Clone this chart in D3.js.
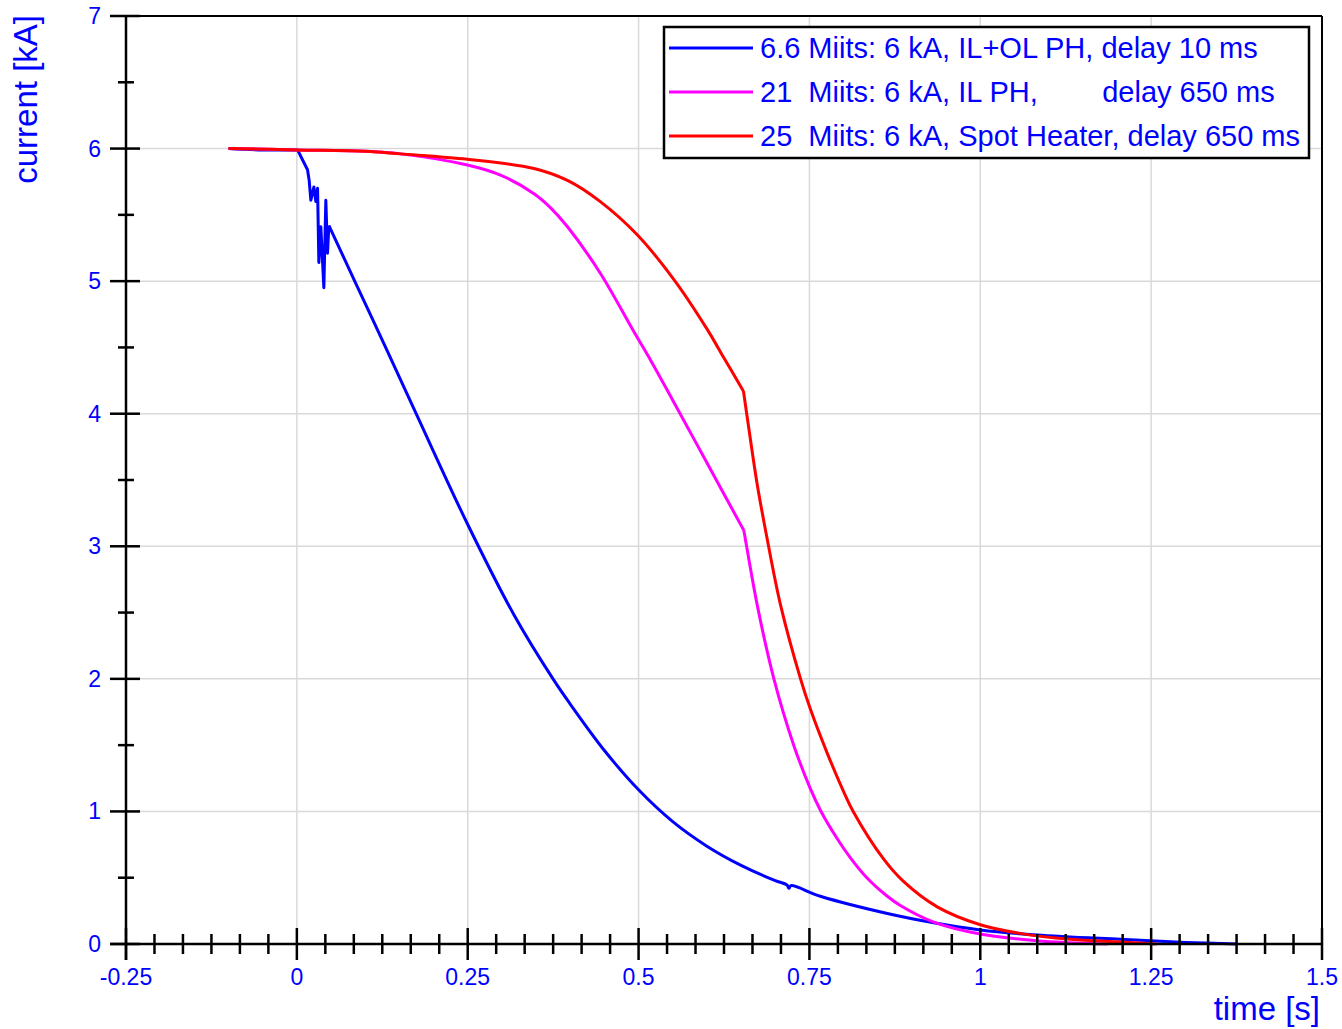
<!DOCTYPE html>
<html>
<head>
<meta charset="utf-8">
<script src="https://cdn.jsdelivr.net/npm/d3@7"></script>
<style>
  html, body { margin: 0; padding: 0; background: #fff; }
  svg { display: block; }
  text { font-family: "Liberation Sans", Arial, sans-serif; white-space: pre; }
</style>
</head>
<body>
<svg id="chart" width="1342" height="1029"></svg>
<script>
// ---------------- data ----------------
const blueTime = [-0.1, -0.05, 0, 0.001, 0.0156, 0.018, 0.0205, 0.0249, 0.0278, 0.0303, 0.0322, 0.0351, 0.0395, 0.0424, 0.0449, 0.0468, 0.0838, 0.1326, 0.1764, 0.2495, 0.318, 0.376, 0.40, 0.45, 0.50, 0.55, 0.60, 0.65, 0.70, 0.717, 0.720, 0.723, 0.766, 0.864, 0.932, 1.0, 1.083, 1.205, 1.3, 1.376];
const blueCurrent = [6.0, 5.99, 5.99, 5.99, 5.84, 5.76, 5.61, 5.71, 5.60, 5.70, 5.14, 5.41, 4.95, 5.61, 5.21, 5.42, 5.01, 4.47, 3.98, 3.17, 2.48, 1.99, 1.81, 1.46, 1.163, 0.923, 0.738, 0.593, 0.478, 0.446, 0.42, 0.44, 0.36, 0.23, 0.16, 0.106, 0.068, 0.035, 0.012, 0.0];
const blueBreaks = [0, 0.0468];          // times where the trace changes character
const blueCurves = ["smooth", "linear", "smooth"];

const magentaTime = [-0.1, 0, 0.1, 0.152, 0.2495, 0.298, 0.347, 0.371, 0.396, 0.444, 0.493, 0.518, 0.547, 0.6, 0.654, 0.6564, 0.6735, 0.698, 0.727, 0.7515, 0.767, 0.79, 0.81, 0.834, 0.864, 0.883, 0.932, 1.0, 1.083, 1.186];
const magentaCurrent = [6.0, 5.99, 5.98, 5.96, 5.876, 5.80, 5.66, 5.555, 5.41, 5.06, 4.62, 4.40, 4.13, 3.63, 3.12, 3.05, 2.56, 2.0, 1.50, 1.17, 1.0, 0.80, 0.65, 0.50, 0.36, 0.29, 0.165, 0.075, 0.025, 0.0];
const magentaBreaks = [0.654];
const magentaCurves = ["smooth", "smooth"];

const redTime = [-0.1, 0, 0.1, 0.152, 0.2495, 0.347, 0.396, 0.444, 0.498, 0.552, 0.600, 0.625, 0.6535, 0.6613, 0.6735, 0.688, 0.7076, 0.737, 0.7515, 0.776, 0.800, 0.814, 0.8587, 0.888, 0.937, 1.0, 1.058, 1.132, 1.205, 1.258];
const redCurrent = [6.0, 5.99, 5.98, 5.96, 5.92, 5.85, 5.76, 5.60, 5.35, 5.01, 4.64, 4.42, 4.17, 3.89, 3.47, 3.06, 2.56, 2.0, 1.77, 1.44, 1.15, 1.0, 0.64, 0.47, 0.28, 0.145, 0.08, 0.035, 0.015, 0.0];
const redBreaks = [0.6535];
const redCurves = ["smooth", "smooth"];

const seriesNames = [
  "6.6 Miits: 6 kA, IL+OL PH, delay 10 ms",
  "21  Miits: 6 kA, IL PH,        delay 650 ms",
  "25  Miits: 6 kA, Spot Heater, delay 650 ms"
];
const seriesColors = ["#0000ff", "#ff00ff", "#ff0000"];

const xMajorTicks = [-0.25, 0, 0.25, 0.5, 0.75, 1, 1.25, 1.5];
const xTickLabels = ["-0.25", "0", "0.25", "0.5", "0.75", "1", "1.25", "1.5"];
const yMajorTicks = [0, 1, 2, 3, 4, 5, 6, 7];
const yTickLabels = ["0", "1", "2", "3", "4", "5", "6", "7"];
const xMinorPerMajor = 6;
const yMinorPerMajor = 2;

const xTitle = "time [s]";
const yTitle = "current [kA]";

// ---------------- layout ----------------
const svg = d3.select("#chart");
const pLeft = 126, pRight = 1322, pTop = 16, pBottom = 944;
const x = d3.scaleLinear().domain([-0.25, 1.5]).range([pLeft, pRight]);
const y = d3.scaleLinear().domain([0, 7]).range([pBottom, pTop]);
const textBlue = "#0000ff";

// minor tick positions
const xMinor = [];
for (let i = 0; i < xMajorTicks.length - 1; i++) {
  const a = xMajorTicks[i], b = xMajorTicks[i + 1];
  for (let k = 1; k < xMinorPerMajor; k++) xMinor.push(a + (b - a) * k / xMinorPerMajor);
}
const yMinor = [];
for (let i = 0; i < yMajorTicks.length - 1; i++) {
  const a = yMajorTicks[i], b = yMajorTicks[i + 1];
  for (let k = 1; k < yMinorPerMajor; k++) yMinor.push(a + (b - a) * k / yMinorPerMajor);
}

// gridlines
const grid = svg.append("g").attr("stroke", "#d9d9d9").attr("stroke-width", 1.5);
grid.selectAll("line.vx").data(xMajorTicks.slice(1, -1)).join("line")
  .attr("x1", d => x(d)).attr("x2", d => x(d)).attr("y1", pTop).attr("y2", pBottom);
grid.selectAll("line.hy").data(yMajorTicks.slice(1, -1)).join("line")
  .attr("y1", d => y(d)).attr("y2", d => y(d)).attr("x1", pLeft).attr("x2", pRight);

// series: split each trace at its break times, draw each piece with its own curve
function pieces(times, vals, breaks) {
  const pts = d3.zip(times, vals);
  const out = [];
  let cur = [];
  let bi = 0;
  pts.forEach(p => {
    cur.push(p);
    if (bi < breaks.length && Math.abs(p[0] - breaks[bi]) < 1e-9) {
      out.push(cur);
      cur = [p];
      bi++;
    }
  });
  if (cur.length > 1) out.push(cur);
  return out;
}
const smoothLine = d3.line().x(d => x(d[0])).y(d => y(d[1])).curve(d3.curveCatmullRom.alpha(0.5));
const linearLine = d3.line().x(d => x(d[0])).y(d => y(d[1])).curve(d3.curveLinear);

const allSeries = [
  { t: blueTime, v: blueCurrent, b: blueBreaks, c: blueCurves },
  { t: magentaTime, v: magentaCurrent, b: magentaBreaks, c: magentaCurves },
  { t: redTime, v: redCurrent, b: redBreaks, c: redCurves }
];
const gSeries = svg.append("g");
allSeries.forEach((s, i) => {
  const ps = pieces(s.t, s.v, s.b);
  const d = ps.map((p, k) => (s.c[k] === "linear" ? linearLine : smoothLine)(p)).join("");
  gSeries.append("path")
    .attr("d", d)
    .attr("fill", "none")
    .attr("stroke", seriesColors[i])
    .attr("stroke-width", 3)
    .attr("stroke-linejoin", "round");
});

// frame and axes
const ax = svg.append("g").attr("stroke", "#000");
ax.append("line").attr("x1", pLeft).attr("x2", pRight).attr("y1", pTop).attr("y2", pTop).attr("stroke-width", 2);
ax.append("line").attr("x1", pRight).attr("x2", pRight).attr("y1", pTop).attr("y2", pBottom).attr("stroke-width", 2);
ax.append("line").attr("x1", pLeft - 16).attr("x2", pRight).attr("y1", pBottom).attr("y2", pBottom).attr("stroke-width", 2.5);
ax.append("line").attr("x1", pLeft).attr("x2", pLeft).attr("y1", pTop).attr("y2", pBottom + 16).attr("stroke-width", 2.5);

// x ticks
ax.selectAll("line.xmaj").data(xMajorTicks).join("line")
  .attr("x1", d => x(d)).attr("x2", d => x(d)).attr("y1", pBottom - 16).attr("y2", pBottom + 16).attr("stroke-width", 2.5);
ax.selectAll("line.xmin").data(xMinor).join("line")
  .attr("x1", d => x(d)).attr("x2", d => x(d)).attr("y1", pBottom - 10).attr("y2", pBottom + 10).attr("stroke-width", 2.5);
// y ticks
ax.selectAll("line.ymaj").data(yMajorTicks).join("line")
  .attr("y1", d => y(d)).attr("y2", d => y(d)).attr("x1", pLeft - 16).attr("x2", pLeft + 14).attr("stroke-width", 2.5);
ax.selectAll("line.ymin").data(yMinor).join("line")
  .attr("y1", d => y(d)).attr("y2", d => y(d)).attr("x1", pLeft - 8).attr("x2", pLeft + 8).attr("stroke-width", 2.5);

// tick labels
svg.append("g").selectAll("text").data(xMajorTicks).join("text")
  .attr("x", d => x(d)).attr("y", pBottom + 41)
  .attr("text-anchor", "middle").attr("font-size", 23).attr("fill", textBlue)
  .text((d, i) => xTickLabels[i]);
svg.append("g").selectAll("text").data(yMajorTicks).join("text")
  .attr("x", pLeft - 25).attr("y", d => y(d) + 8)
  .attr("text-anchor", "end").attr("font-size", 23).attr("fill", textBlue)
  .text((d, i) => yTickLabels[i]);

// axis titles
svg.append("text").attr("x", pRight - 2).attr("y", 1020)
  .attr("text-anchor", "end").attr("font-size", 33).attr("fill", textBlue).text(xTitle);
svg.append("text").attr("transform", "translate(37,15) rotate(-90)")
  .attr("text-anchor", "end").attr("font-size", 33).attr("fill", textBlue).text(yTitle);

// legend
const lg = svg.append("g");
lg.append("rect").attr("x", 664).attr("y", 27).attr("width", 645).attr("height", 131)
  .attr("fill", "#fff").attr("stroke", "#000").attr("stroke-width", 2.5);
seriesNames.forEach((name, i) => {
  const cy = 48 + i * 44;
  lg.append("line").attr("x1", 669).attr("x2", 753).attr("y1", cy).attr("y2", cy)
    .attr("stroke", seriesColors[i]).attr("stroke-width", 3);
  lg.append("text").attr("x", 760).attr("y", cy + 10).attr("font-size", 29)
    .attr("fill", textBlue).text(name);
});
</script>
</body>
</html>
